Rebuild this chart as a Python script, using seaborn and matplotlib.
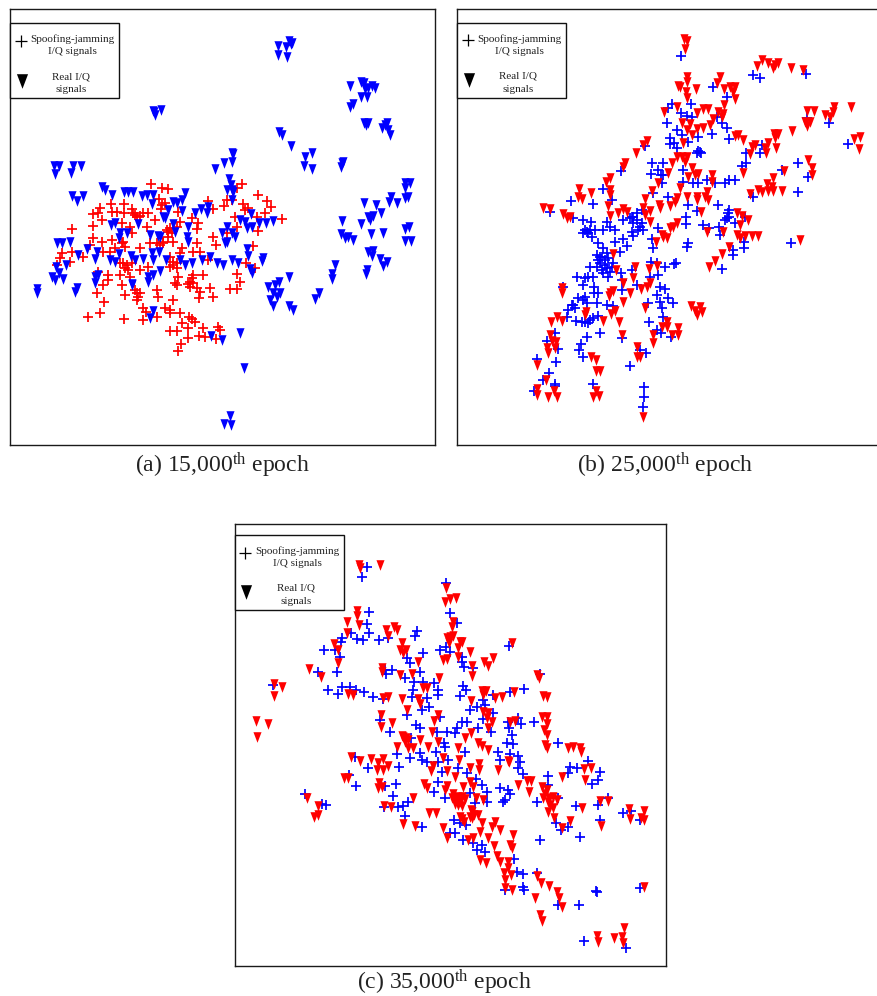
import matplotlib
matplotlib.use('Agg')
import matplotlib.pyplot as plt
import pandas as pd
import seaborn as sns
from matplotlib.lines import Line2D
from matplotlib.patches import Rectangle

# points, units are arbitrary (no ticks in the original)
a_real = [(834,138),(834,166),(858,142),(862,170),(868,124),(875,128),(872,132),
(1050,258),(1084,245),(1092,250),(1095,268),(1105,265),(1115,258),(1125,264),(1083,290),(1102,292),(1060,312),(1050,322),(1092,368),(1103,370),(1098,375),(1160,368),(1145,385),(1165,390),(1170,405),(1155,375),
(458,332),(482,330),(465,345),(462,335),(838,395),(845,405),(873,438),(935,460),(916,472),(912,498),(937,508),(1025,488),(1022,500),(1028,485),
(695,458),(697,487),(673,490),(645,508),(700,462),(163,497),(177,497),(165,522),(218,497),(242,498),(212,520),
(686,536),(694,555),(680,570),(697,570),(695,600),(700,575),
(1215,548),(1230,548),(1215,565),(1215,595),(1225,590),(1092,608),(1128,615),(1173,590),(1168,605),(1190,610),(1143,638),(1105,650),(1118,648),(1110,660),(1025,662),(1082,672),(1112,703),(1148,700),(1022,703),(1035,715),(1045,712),(1058,720),(1215,688),(1228,680),(1215,722),(1232,722),(1105,755),(1118,752),(1115,768),(1140,778),(1160,785),(1150,798),(1100,810),(1097,822),(1006,795),(997,822),(995,838),(956,880),(946,898),
(866,830),(838,845),(805,862),(825,855),(820,880),(840,880),(810,900),(820,918),(868,918),(880,930),(830,890),
(720,998),(733,1103),(665,1020),(632,1008),(450,955),(458,932),(690,1248),(672,1272),(692,1275),(110,868),(112,880),
(305,562),(315,570),(335,585),(215,588),(232,603),(250,588),(372,575),(385,575),(398,575),(425,588),(440,585),(460,585),(455,612),(520,605),(530,610),(545,600),(555,580),(505,630),(547,632),(585,638),(603,628),(620,640),(625,620),(488,652),(495,655),(332,675),(345,670),(415,672),(518,672),(525,695),(565,680),(560,712),(565,725),(360,698),(358,715),(382,700),(450,705),(475,708),(480,712),(752,642),(720,660),(735,665),(740,685),(755,680),(778,670),(797,668),(820,662),(665,700),(682,682),(695,698),(705,712),(680,725),(675,730),(742,748),(745,768),(790,775),(785,782),(695,780),(715,788),(650,790),(668,795),(630,770),(750,808),(755,818),
(210,725),(170,730),(185,730),(235,765),(262,748),(285,778),(292,755),(330,780),(345,785),(358,762),(392,768),(405,780),(430,778),(455,760),(478,755),(458,780),(497,780),(540,780),(555,795),(575,790),(605,780),(480,812),
(198,795),(168,802),(178,818),(155,830),(165,840),(190,838),(285,830),(295,825),(285,850),(230,865),(225,875),(395,852),(445,830),(460,825),(443,845),(395,855)]

a_fake = [(452,553),(485,565),(505,568),(725,553),(712,565),(775,585),(625,602),(800,603),(812,620),(478,598),(495,608),(300,625),(280,642),(295,640),(332,612),(335,635),(372,612),(372,640),(350,635),(395,628),(400,640),(412,650),(430,640),(445,640),(465,660),(483,628),(485,615),(535,635),(640,628),(672,618),(680,600),(697,600),(730,612),(735,630),(745,625),(795,640),(770,650),(845,658),(705,650),(575,655),(595,668),(590,688),(540,665),(305,660),(280,678),(215,688),(365,670),(390,680),(440,680),(500,690),(510,685),(530,680),(640,710),(648,735),(760,738),(775,692),(680,700),(712,680),
(280,715),(270,735),(305,725),(335,720),(345,745),(370,725),(375,740),(395,700),(420,745),(450,730),(470,730),(490,730),(505,710),(520,725),(545,745),(590,730),(580,755),(600,755),(540,760),(510,770),(520,785),(185,760),(215,755),(180,775),(250,770),(310,755),(330,755),(360,790),(380,795),(395,790),(420,810),(445,800),(510,800),(530,805),(170,795),(210,785),(295,815),(325,825),(325,840),(360,825),(365,855),(390,830),(405,870),(420,880),(410,900),(430,925),(470,870),(475,890),(525,850),(535,830),(530,855),(570,845),(580,825),(610,825),(570,860),(590,865),(600,875),(580,850),(630,865),(640,890),(597,893),(690,868),(710,868),(720,845),(712,822),(737,790),(765,803),(625,780),(290,880),(313,905),(310,855),(375,885),(300,940),(265,952),(373,957),(428,960),(470,950),(437,935),(495,925),(510,930),(520,900),(540,938),(510,938),(568,950),(585,965),(575,958),(545,970),(565,985),(510,992),(530,992),(610,985),(598,1008),(565,1015),(615,1010),(655,982),(648,1018),(660,990),(543,1032),(535,1052),
(505,695),(515,700),(365,730),(480,735),(370,790),(520,795),(575,835),(565,852),(405,645),(420,648),(410,880),(415,890),(490,725),(375,805),(530,790),(385,810)]

b_real = [(703,118),(710,122),(704,148),(712,232),(710,245),(685,258),(690,262),(738,268),(810,230),(800,250),(708,275),(712,295),(822,268),(840,262),(855,262),(848,275),(855,298),(823,315),(935,180),(922,198),(953,188),(968,205),(975,195),(985,188),(1023,205),(1060,210),(680,322),(643,335),(740,338),(758,328),(775,326),(805,335),(820,342),(815,352),(1070,332),(1092,332),(1125,345),(1140,352),(1152,322),(1150,335),(1203,320),(1065,365),(1080,365),(1072,378),(1025,392),(695,368),(720,372),(712,390),(725,405),(740,388),(760,385),(780,375),(790,358),(972,402),(985,402),(975,415),(855,408),(865,405),(880,420),(700,428),(590,422),(580,435),(558,458),(1213,418),(1230,412),(1228,448),(955,430),(945,445),(948,460),(978,445),(915,435),(905,440),(900,462),(525,490),(520,500),(680,470),(665,488),(695,472),(710,472),(705,485),(1074,480),(1085,505),(880,520),(655,518),(725,505),(1085,525),(1003,512),(715,530),(735,525),(745,522),(785,525),(785,545),(625,548),(970,535),(950,552),(965,560),(955,572),(970,572),(995,572),(925,570),(935,575),(900,582),(480,535),(468,545),(388,568),(385,590),(395,597),(422,578),(480,570),(480,585),(605,572),(690,565),(770,575),(765,590),(740,590),(710,590),(680,595),(675,605),(660,618),(628,615),(630,625),(585,598),(775,600),(740,600),
(278,625),(300,627),(340,642),(350,655),(360,652),(475,618),(480,648),(505,640),(518,628),(530,635),(580,625),(600,632),(585,645),(600,665),(752,635),(862,640),(875,648),(895,660),(870,675),(680,668),(668,680),(660,685),(640,710),(650,715),(618,725),(635,705),(770,695),(818,695),(862,705),(870,715),(885,708),(905,708),(925,708),(1050,720),(838,740),(815,762),(795,782),(778,800),(490,762),(555,800),(598,808),(620,798),(498,810),(548,835),(520,850),(600,850),(590,860),(572,868),(540,880),(335,865),(335,880),(480,878),(490,872),(478,888),(518,905),(722,918),(750,922),(735,932),(755,935),(742,945),(585,925),(495,932),(483,942),(408,935),(405,945),(320,950),(335,962),(303,965),(460,962),(508,965),(652,965),(650,980),(635,982),(685,985),(683,1005),(665,1005),(515,1005),(608,1005),(300,1005),(305,1022),(318,1025),(292,1045),(315,1045),(295,1060),(608,1030),(562,1042),(562,1070),(570,1072),(422,1072),(438,1080),(262,1095),(437,1112),(450,1112),(288,1140),(312,1172),(262,1168),(260,1185),(295,1192),(322,1192),(430,1190),(448,1188),(437,1172),(580,1252)]

b_fake = [(692,167),(908,224),(930,235),(1069,223),(788,262),(830,290),(665,312),(655,325),(723,312),(692,340),(710,348),(652,368),(680,390),(697,405),(725,352),(1072,355),(1137,368),(785,403),(800,350),(815,368),(830,385),(838,418),(660,415),(660,432),(672,430),(680,445),(715,425),(745,410),(1193,432),(935,435),(930,458),(887,458),(875,497),(888,488),(745,452),(752,458),(1045,488),(1073,530),(995,510),(1045,575),(605,488),(604,522),(640,490),(625,510),(632,525),(640,525),(635,548),(512,514),(698,510),(700,545),(730,548),(745,548),(770,540),(795,550),(825,548),(838,540),(855,540),(910,592),(458,567),(363,604),(429,613),(485,600),(300,635),(585,438),(655,590),(610,578),(715,615),(740,632),(805,615),(838,630),(838,650),(825,660),(855,670),(885,652),(708,652),(708,672),(760,675),(778,685),(808,682),(810,705),(715,728),(710,742),(882,725),(882,745),(850,750),(848,765),(1024,730),(817,806),(677,790),(672,792),(645,800),(603,785),(620,788),
(370,655),(400,660),(423,665),(405,690),(415,700),(435,690),(425,710),(445,730),(460,690),(470,665),(480,680),(495,690),(495,725),(520,718),(530,738),(520,660),(545,650),(560,640),(575,630),(550,670),(570,680),(580,690),(545,695),(550,708),(625,685),(605,718),(608,745),(460,745),(455,770),(470,760),(490,790),(510,755),(445,780),(440,800),(465,795),(460,820),(480,815),(420,802),(415,830),(380,830),(405,835),(430,830),(400,855),(432,862),(432,880),(445,878),(512,820),(515,840),(515,870),(560,855),(545,810),(600,830),(625,825),(630,860),(645,868),(620,885),(655,895),(668,908),(630,905),(595,908),(635,925),(385,895),(405,890),(365,915),(355,930),(375,925),(410,910),(440,908),(470,915),(490,918),(350,952),(378,962),(395,965),(415,970),(430,955),(445,948),(640,950),(597,966),(622,990),(632,1000),(450,1000),(412,1010),(314,1000),(290,1022),(325,1048),(517,1015),(662,1012),(394,1032),(386,1050),(400,1072),(570,1050),(587,1060),(318,1086),(540,1098),(298,1120),(278,1140),(316,1152),(316,1158),(430,1152),(582,1162),(582,1190),(580,1222),(252,1172),(262,1076),(340,860),
(450,770),(465,780),(475,775),(450,790),(470,805),(485,800),(455,810),(475,830),(440,765),(410,695),(400,700),(420,690),(560,660),(575,670),(565,690),(550,650),(540,655),(750,455),(740,460),(835,640),(830,655),(370,915),(400,900),(420,960),(405,965)]

c_real = [(403,150),(405,158),(466,150),(662,218),(660,260),(675,252),(692,250),(395,288),(395,302),(403,330),(367,322),(367,355),(482,345),(490,362),(508,335),(515,345),(685,320),(680,335),(675,365),(665,368),(685,362),(672,385),(705,380),(712,382),(700,400),(530,385),(525,405),(542,405),(535,415),(328,388),(338,405),(338,445),(735,412),(700,425),(655,435),(665,432),(580,440),(778,440),(805,430),(790,452),(740,452),(862,385),(470,460),(470,470),(253,462),(287,485),(525,480),(560,478),(642,488),(742,482),(935,480),(942,490),(148,507),(172,515),(148,542),(595,518),(605,520),(770,528),(782,528),(775,540),(867,532),(370,538),(385,540),(475,548),(490,545),(532,552),(580,552),(585,568),(545,585),(738,558),(810,550),(830,545),(955,543),(965,545),(468,600),(468,635),(500,625),(638,600),(628,618),(622,650),(775,590),(790,595),(785,610),(800,620),(790,640),(855,622),(870,618),(950,605),(965,605),(965,628),(958,645),(965,660),(960,690),(965,700),(92,618),(128,628),(95,665),(535,665),(548,675),(548,700),(565,700),(515,695),(585,675),(610,695),(640,680),(720,668),(738,655),(760,685),(770,692),(788,705),(698,698),(702,735),(655,730),(1028,698),(1044,695),(1065,700),(1068,710),(378,725),(405,737),(438,732),(473,733),(488,752),(458,745),(455,765),(475,765),(850,738),(852,742),(625,752),(618,768),(665,768),(735,760),(762,748),(762,765),(820,765),(1078,762),(1098,760),(1080,795),(1010,785),(358,790),(370,790),(462,805),(458,818),(472,815),(597,808),(605,820),(690,785),(735,800),(745,815),(880,810),(905,798),(918,798),(912,830),(950,815),(965,825),(985,845),(955,850),(970,860),(995,855),(985,880),(968,890),(660,825),(665,812),(680,850),(695,860),(710,845),(700,870),(705,905),(715,815),(565,848),(245,848),(280,872),(268,905),(280,900),(478,872),(498,875),(752,850),(775,855),(612,895),(632,895),(738,885),(760,900),(740,910),(1072,878),(1124,858),(1150,858),(1212,882),(1215,912),(1256,888),(1248,910),(1258,915),(988,908),(1035,918),(1010,940),(1128,932),(535,928),(570,932),(655,940),(665,970),(770,925),(810,920),(800,935),(825,945),(765,950),(863,960),(728,975),(745,968),(790,970),(808,992),(855,990),(862,998),(765,1035),(782,1045),(815,1022),(825,1040),(850,1040),(850,1060),(837,1075),(857,1080),(840,1095),(840,1120),(860,1125),(937,1082),(948,1105),(972,1112),(995,1132),(1002,1150),(930,1150),(1010,1175),(945,1200),(952,1218),(1258,1115),(1115,1262),(1120,1282),(1198,1240),(1166,1268),(1192,1265),(1195,1285),
(690,850),(705,860),(690,868),(712,872),(700,845),(685,838),(720,852),(960,838),(972,850),(975,870),(742,892),(748,900),(735,905),(712,912),(716,922),(540,682),(530,662),(542,668)]

c_fake = [(426,157),(411,185),(432,290),(427,328),(432,355),(395,372),(415,375),(378,355),(352,368),(347,380),(298,405),(330,405),(345,425),(335,470),(280,470),(463,375),(488,370),(575,348),(570,362),(662,205),(675,293),(695,325),(645,405),(662,395),(675,412),(595,415),(545,430),(555,445),(852,392),(712,440),(718,455),(745,460),(710,425),(480,465),(500,465),(482,478),(540,488),(585,470),(143,510),(310,525),(340,537),(352,515),(375,515),(392,525),(417,532),(445,547),(473,552),(568,500),(595,500),(628,505),(640,525),(638,540),(565,525),(560,545),(605,550),(590,585),(612,575),(545,600),(715,512),(722,525),(705,543),(805,540),(855,530),(897,523),(945,478),(755,575),(735,585),(775,555),(780,570),(805,595),(775,612),(798,650),(465,615),(495,650),(573,630),(585,640),(645,605),(635,650),(710,620),(695,640),(690,655),(725,620),(758,640),(665,650),(850,620),(880,610),(887,628),(927,620),(853,640),(860,660),(845,685),(865,688),(998,683),(558,670),(658,685),(660,695),(720,710),(633,710),(515,718),(555,728),(585,715),(590,735),(605,740),(640,740),(670,735),(818,712),(825,735),(855,718),(880,722),(885,740),(880,760),(895,778),(390,725),(430,760),(523,757),(650,770),(700,760),(725,775),(752,792),(640,800),(628,830),(660,850),(372,780),(392,812),(480,812),(513,806),(503,843),(478,875),(518,875),(533,872),(548,862),(540,903),(590,935),(240,838),(290,868),(303,870),(1035,755),(1055,760),(1090,738),(1030,775),(1125,772),(1120,795),(1100,808),(968,782),(968,810),(825,820),(850,825),(855,838),(840,855),(835,862),(785,830),(770,810),(735,835),(750,865),(785,860),(935,860),(1000,850),(1053,872),(1118,870),(1148,850),(1193,895),(1218,888),(1245,915),(992,925),(1008,945),(1030,935),(1125,915),(945,976),(1064,966),(687,915),(705,925),(722,930),(675,955),(690,955),(715,975),(745,985),(755,1005),(780,1010),(770,990),(868,1032),(877,1072),(895,1077),(935,1075),(840,1125),(893,1115),(897,1125),(1112,1128),(1115,1130),(1245,1118),(1062,1170),(1000,1170),(1077,1277),(1202,1298)]

captions = ['(a) 15,000$^{\\mathrm{th}}$ epoch', '(b) 25,000$^{\\mathrm{th}}$ epoch', '(c) 35,000$^{\\mathrm{th}}$ epoch']
key_labels = ['Spoofing-jamming\nI/Q signals', 'Real I/Q\nsignals']

W, H = 877, 996
sns.set_theme(style='white')
plt.rcParams['font.family'] = ['Liberation Serif', 'DejaVu Serif']
plt.rcParams['mathtext.fontset'] = 'custom'
plt.rcParams['mathtext.rm'] = 'Liberation Serif'
plt.rcParams['mathtext.it'] = 'Liberation Serif:italic'

fig = plt.figure(figsize=(W / 100, H / 100), dpi=100, facecolor='white')
tri = [(-0.42, 0.55), (0.42, 0.55), (0, -0.55), (-0.42, 0.55)]


def px(x, y):
    return x / W, 1 - y / H


def panel(box, xlim, ylim, real, fake, real_col, fake_col, cap, cap_xy, key_xy):
    # box = left, top, right, bottom in figure pixels
    left, top, right, bottom = box
    ax = fig.add_axes([left / W, 1 - bottom / H, (right - left) / W, (bottom - top) / H])
    real_df = pd.DataFrame(real, columns=['x', 'y'])
    fake_df = pd.DataFrame(fake, columns=['x', 'y'])
    sns.scatterplot(data=fake_df, x='x', y='y', ax=ax, marker='+', s=48, color=fake_col,
                    linewidth=1.25, zorder=2)
    sns.scatterplot(data=real_df, x='x', y='y', ax=ax, marker=tri, s=58, color=real_col,
                    linewidth=0, zorder=3)
    ax.set_xlim(*xlim)
    ax.set_ylim(*ylim)
    ax.set_xticks([])
    ax.set_yticks([])
    ax.set_xlabel('')
    ax.set_ylabel('')
    for s in ax.spines.values():
        s.set_visible(True)
        s.set_color('#1a1a1a')
        s.set_linewidth(1.0)

    fig.text(*px(*cap_xy), cap, ha='center', va='center', fontsize=17, color='#222222')

    # hand made key, same layout in every panel
    kx, ky = key_xy
    fig.add_artist(Rectangle(px(kx, ky + 75), 109 / W, 75 / H, transform=fig.transFigure,
                             facecolor='white', edgecolor='#111111', linewidth=1.0, zorder=5))
    fig.add_artist(Line2D(*zip(px(kx + 10.5, ky + 17.5)), marker='+', color='black', markersize=8.5,
                          markeredgewidth=0.9, linestyle='none', transform=fig.transFigure, zorder=6))
    fig.add_artist(Line2D(*zip(px(kx + 11.5, ky + 57.5)), marker=tri, color='black', markersize=10.5,
                          markeredgewidth=0, linestyle='none', transform=fig.transFigure, zorder=6))
    fig.text(*px(kx + 62.5, ky + 22), key_labels[0], ha='center', va='center', fontsize=8,
             linespacing=1.45, color='#222222', zorder=7)
    fig.text(*px(kx + 61, ky + 60), key_labels[1], ha='center', va='center', fontsize=8,
             linespacing=1.6, color='#222222', zorder=7)


panel((10.3, 9.3, 435.3, 445.3), (31, 1306), (1336, 28), a_real, a_fake, '#0000ff', '#ff0000',
      captions[0], (222, 465), (10.3, 23.3))
panel((457.3, 9.3, 882.3, 445.3), (22, 1297), (1336, 28), b_real, b_fake, '#ff0000', '#0000ff',
      captions[1], (665, 465), (457.3, 23))
panel((234.7, 524, 665.7, 966.3), (29, 1322), (1354, 27), c_real, c_fake, '#ff0000', '#0000ff',
      captions[2], (444, 982.5), (234.7, 535))

fig.savefig('out.png', dpi=100)
